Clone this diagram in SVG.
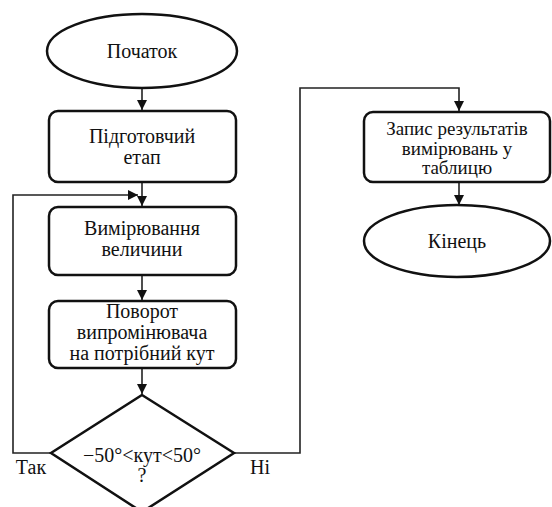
<svg xmlns="http://www.w3.org/2000/svg" width="552" height="507" viewBox="0 0 552 507">
<style>
.n{fill:#fff;stroke:#111;stroke-width:2.5}
.c{fill:none;stroke:#222;stroke-width:1.6}
.t{font-family:'Liberation Serif','DejaVu Serif','Times New Roman',serif;font-size:20px;fill:#111;text-anchor:middle}
.s{font-size:19px}
</style>
<defs>
<marker id="a" viewBox="0 0 10 10" refX="10" refY="5" markerWidth="10" markerHeight="10" markerUnits="userSpaceOnUse" orient="auto">
<path d="M0,0 L10,5 L0,10 z" fill="#111"/>
</marker>
</defs>
<rect width="552" height="507" fill="#fff"/>
<g id="connectors">
<line class="c" x1="142" y1="89" x2="142" y2="110" marker-end="url(#a)"/>
<line class="c" x1="142" y1="182" x2="142" y2="206" marker-end="url(#a)"/>
<polyline class="c" points="51,453 13,453 13,195 138,195" marker-end="url(#a)"/>
<line class="c" x1="142" y1="275" x2="142" y2="300" marker-end="url(#a)"/>
<line class="c" x1="142" y1="368" x2="142" y2="394" marker-end="url(#a)"/>
<polyline class="c" points="234,453 300,453 300,88 459,88 459,111" marker-end="url(#a)"/>
<line class="c" x1="459" y1="182" x2="459" y2="205" marker-end="url(#a)"/>
</g>
<g id="start">
<ellipse class="n" cx="142" cy="51" rx="95" ry="37"/>
<text class="t" x="142" y="58">Початок</text>
</g>
<g id="prep">
<rect class="n" x="49" y="111" width="187" height="71" rx="9"/>
<text class="t" x="142" y="143">Підготовчий</text>
<text class="t" x="142" y="164">етап</text>
</g>
<g id="measure">
<rect class="n" x="49" y="207" width="187" height="68" rx="9"/>
<text class="t" x="142" y="235">Вимірювання</text>
<text class="t" x="142" y="256">величини</text>
</g>
<g id="rotate">
<rect class="n" x="49" y="301" width="187" height="67" rx="9"/>
<text class="t" x="142" y="318">Поворот</text>
<text class="t" x="142" y="339">випромінювача</text>
<text class="t" x="142" y="360">на потрібний кут</text>
</g>
<g id="decision">
<polygon class="n" points="142,395 234,453 142,512 51,453"/>
<text class="t" x="142" y="462">−50°&lt;кут&lt;50°</text>
<text class="t" x="142" y="482">?</text>
<text class="t" x="31" y="474">Так</text>
<text class="t" x="260" y="474">Ні</text>
</g>
<g id="record">
<rect class="n" x="364" y="112" width="186" height="70" rx="9"/>
<text class="t s" x="457" y="135">Запис результатів</text>
<text class="t s" x="457" y="155">вимірювань у</text>
<text class="t s" x="457" y="174">таблицю</text>
</g>
<g id="end">
<ellipse class="n" cx="457" cy="241" rx="93" ry="36"/>
<text class="t" x="457" y="248">Кінець</text>
</g>
</svg>
